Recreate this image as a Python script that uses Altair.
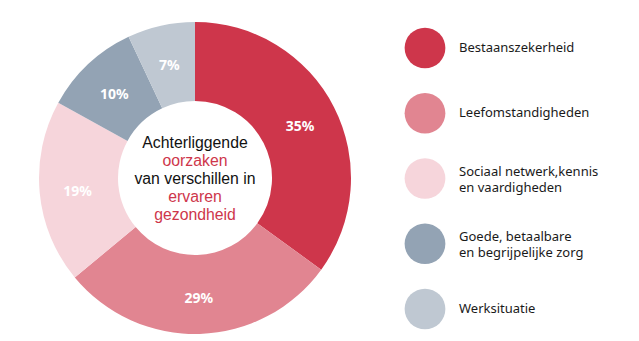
import altair as alt
import pandas as pd

categories = ["Bestaanszekerheid", "Leefomstandigheden",
              "Sociaal netwerk,kennis\nen vaardigheden",
              "Goede, betaalbare\nen begrijpelijke zorg", "Werksituatie"]
n_lines = [1, 1, 2, 2, 1]
values = [35, 29, 19, 10, 7]
labels = ["35%", "29%", "19%", "10%", "7%"]
colors = ["#CE364B", "#E18591", "#F6D5DB", "#93A3B4", "#BFC8D2"]

center_lines = ["Achterliggende", "oorzaken", "van verschillen in", "ervaren", "gezondheid"]
center_colors = ["#111111", "#CE364B", "#111111", "#CE364B", "#CE364B"]

df = pd.DataFrame({"cat": categories, "value": values, "label": labels,
                   "n": n_lines, "idx": list(range(len(values)))})
cdf = pd.DataFrame({"line": center_lines, "col": center_colors,
                    "i": list(range(len(center_lines)))})

CX, CY = 195, 178
color_scale = alt.Scale(domain=categories, range=colors)

arc = alt.Chart(df).mark_arc(innerRadius=77, outerRadius=156).encode(
    theta=alt.Theta("value:Q", stack=True),
    order=alt.Order("idx:Q"),
    color=alt.Color("cat:N", scale=color_scale, legend=None),
    x=alt.value(CX), y=alt.value(CY),
)

pct = alt.Chart(df).mark_text(radius=118, dy=3, font="Noto Sans", fontSize=14,
                              fontWeight="bold", color="white").encode(
    theta=alt.Theta("value:Q", stack=True),
    order=alt.Order("idx:Q"),
    text="label:N",
    x=alt.value(CX), y=alt.value(CY),
)

center = alt.Chart(cdf).mark_text(font="Liberation Sans", fontSize=15.8,
                                  baseline="middle").encode(
    x=alt.value(CX),
    y=alt.Y("i:Q", scale=alt.Scale(domain=[0, 4], range=[143, 215]), axis=None),
    text="line:N",
    color=alt.Color("col:N", scale=None),
)

leg_y = alt.Y("idx:Q", scale=alt.Scale(domain=[0, 4], range=[48, 309]), axis=None)
leg_dots = alt.Chart(df).mark_circle(size=1660, opacity=1).encode(
    x=alt.value(425), y=leg_y,
    color=alt.Color("cat:N", scale=color_scale, legend=None),
)
leg_text1 = alt.Chart(df).transform_filter("datum.n == 1").mark_text(
    align="left", baseline="middle", font="Noto Sans", fontSize=13,
    color="#1a1a1a").encode(x=alt.value(459), y=leg_y, text="cat:N")
leg_text2 = alt.Chart(df).transform_filter("datum.n == 2").mark_text(
    align="left", baseline="middle", font="Noto Sans", fontSize=13, dy=-7,
    lineBreak="\n", lineHeight=16.5, color="#1a1a1a").encode(
    x=alt.value(459), y=leg_y, text="cat:N")

chart = alt.layer(arc, pct, center, leg_dots, leg_text1, leg_text2).resolve_scale(
    y="independent", color="independent"
).properties(width=639, height=341, padding=0,
             autosize=alt.AutoSizeParams(type="none")).configure_view(stroke=None)

chart.save("out.html", embed_options={"renderer": "svg", "actions": False})
